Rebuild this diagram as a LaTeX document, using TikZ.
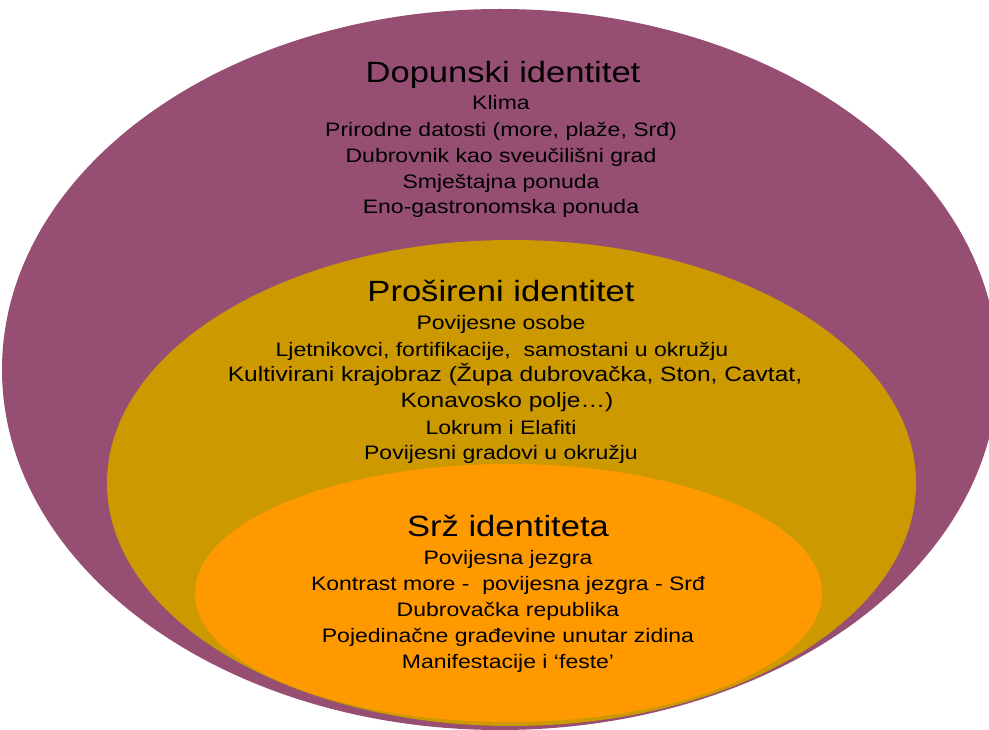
\documentclass[tikz,border=0pt]{standalone}
\usepackage{fontspec}
\setmainfont{Liberation Sans}[FakeStretch=1.18]
\definecolor{outerc}{RGB}{150,79,114}
\definecolor{midc}{RGB}{204,153,0}
\definecolor{innerc}{RGB}{255,153,0}
\tikzset{
  ttl/.style={anchor=base, inner sep=0pt, font=\fontsize{29.3}{31}\selectfont},
  txt/.style={anchor=base, inner sep=0pt, font=\fontsize{19.5}{22}\selectfont},
  txtb/.style={anchor=base, inner sep=0pt, font=\fontsize{20.8}{23}\selectfont},
}
\begin{document}
\begin{tikzpicture}[x=1pt,y=-1pt]
\useasboundingbox (0,0) rectangle (989,730);
\fill[white] (0,0) rectangle (989,730);
\fill[outerc] (500,369.5) ellipse [x radius=498pt, y radius=360.5pt];
\fill[midc] (511.5,483) ellipse [x radius=404.5pt, y radius=243pt];
\fill[innerc] (508.5,593) ellipse [x radius=313.5pt, y radius=129pt];
% outer block
\node[ttl] (t1) at (503,82.7) {Dopunski identitet};
\node[txt] (a1) at (501,110) {Klima};
\node[txt] (a2) at (501,137) {Prirodne datosti (more, plaže, Srđ)};
\node[txt] (a3) at (501,163) {Dubrovnik kao sveučilišni grad};
\node[txt] (a4) at (501,188.5) {Smještajna ponuda};
\node[txt] (a5) at (501,214) {Eno-gastronomska ponuda};
% middle block
\node[ttl] (t2) at (501,301.7) {Prošireni identitet};
\node[txt] (b1) at (501,330) {Povijesne osobe};
\node[txt] (b2) at (502,356) {Ljetnikovci, fortifikacije,\ \ samostani u okružju};
\node[txtb] (b3) at (515,381.7) {Kultivirani krajobraz (Župa dubrovačka, Ston, Cavtat,};
\node[txtb] (b4) at (507,407.3) {Konavosko polje…)};
\node[txt] (b5) at (501,434) {Lokrum i Elafiti};
\node[txt] (b6) at (501,459) {Povijesni gradovi u okružju};
% inner block
\node[ttl] (t3) at (508,536) {Srž identiteta};
\node[txt] (c1) at (508,564) {Povijesna jezgra};
\node[txt] (c2) at (508,590.7) {Kontrast more -\ \ povijesna jezgra - Srđ};
\node[txt] (c3) at (508,616.7) {Dubrovačka republika};
\node[txt] (c4) at (508,642.7) {Pojedinačne građevine unutar zidina};
\node[txt] (c5) at (508,668.3) {Manifestacije i ‘feste’};
\end{tikzpicture}
\end{document}
